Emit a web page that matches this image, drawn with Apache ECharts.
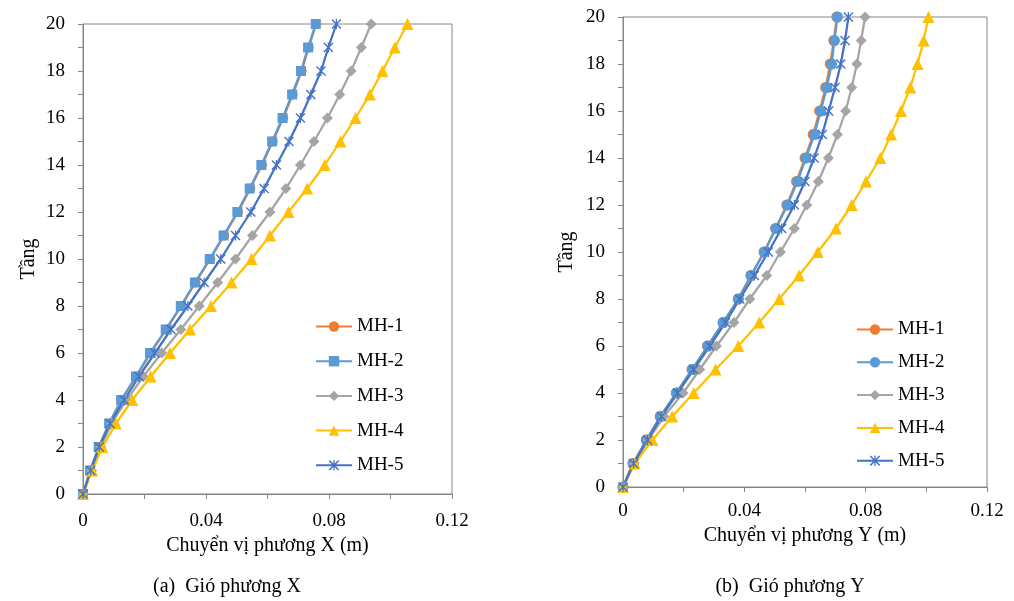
<!DOCTYPE html>
<html><head><meta charset="utf-8">
<script src="https://cdn.jsdelivr.net/npm/echarts@6/dist/echarts.min.js"></script>
<style>html,body{margin:0;padding:0;background:#fff}#c{width:1014px;height:601px}</style>
</head><body><div id="c"></div>
<script>
const floors = [0,1,2,3,4,5,6,7,8,9,10,11,12,13,14,15,16,17,18,19,20];
const seriesNames = ['MH-1','MH-2','MH-3','MH-4','MH-5'];
const xTickLabels = ['0','0.04','0.08','0.12'];
// Left chart: wind direction X (displacement in m)
const xMH1 = [0,0.0024,0.0052,0.0086,0.0125,0.0174,0.0220,0.0271,0.0320,0.0366,0.0414,0.0459,0.0504,0.0544,0.0582,0.0617,0.0651,0.0682,0.0711,0.0734,0.0758];
const xMH2 = [0,0.0023,0.0051,0.0085,0.0124,0.0172,0.0218,0.0269,0.0318,0.0364,0.0412,0.0457,0.0502,0.0542,0.0580,0.0615,0.0649,0.0680,0.0709,0.0732,0.0757];
const xMH3 = [0,0.0028,0.0058,0.0093,0.0142,0.0196,0.0256,0.0318,0.0378,0.0438,0.0496,0.0551,0.0608,0.0660,0.0707,0.0751,0.0795,0.0835,0.0872,0.0905,0.0937];
const xMH4 = [0,0.0030,0.0063,0.0107,0.0160,0.0220,0.0283,0.0348,0.0416,0.0483,0.0548,0.0608,0.0668,0.0729,0.0786,0.0837,0.0886,0.0933,0.0974,0.1014,0.1055];
const xMH5 = [0,0.0025,0.0053,0.0088,0.0134,0.0182,0.0234,0.0286,0.0341,0.0394,0.0448,0.0496,0.0546,0.0589,0.0629,0.0670,0.0707,0.0741,0.0774,0.0798,0.0824];
// Right chart: wind direction Y (displacement in m)
const yMH1 = [0,0.0033,0.0077,0.0123,0.0176,0.0228,0.0279,0.0330,0.0380,0.0422,0.0465,0.0503,0.0540,0.0572,0.0600,0.0627,0.0648,0.0668,0.0683,0.0695,0.0705];
const yMH2 = [0,0.0033,0.0077,0.0123,0.0176,0.0228,0.0279,0.0330,0.0380,0.0422,0.0466,0.0504,0.0542,0.0575,0.0603,0.0631,0.0652,0.0672,0.0688,0.0697,0.0707];
const yMH3 = [0,0.0036,0.0083,0.0135,0.0198,0.0253,0.0308,0.0366,0.0418,0.0474,0.0519,0.0565,0.0606,0.0644,0.0677,0.0707,0.0734,0.0754,0.0771,0.0785,0.0798];
const yMH4 = [0,0.0039,0.0097,0.0162,0.0233,0.0305,0.0380,0.0449,0.0515,0.0580,0.0642,0.0702,0.0754,0.0801,0.0848,0.0884,0.0916,0.0947,0.0971,0.0991,0.1007];
const yMH5 = [0,0.0035,0.0081,0.0127,0.0180,0.0233,0.0286,0.0338,0.0385,0.0433,0.0479,0.0523,0.0565,0.0600,0.0630,0.0657,0.0678,0.0699,0.0718,0.0732,0.0743];

const colors = ['#ED7D31','#5B9BD5','#A5A5A5','#FFC000','#4472C4'];
const FONT = 'Liberation Serif';
const star = 'path://M0,1L1,0L10,9L9,10ZM9,0L10,1L1,10L0,9ZM4.4,0L5.6,0L5.6,10L4.4,10Z';
const symbolsL = ['circle','rect','diamond','triangle',star];
const symbolsR = ['circle','circle','diamond','triangle',star];
const sizesL = [10,10,11,12,10];
const sizesR = [11,11,11,12,10];
const dataL = [xMH1,xMH2,xMH3,xMH4,xMH5];
const dataR = [yMH1,yMH2,yMH3,yMH4,yMH5];

function pairs(vals){ return vals.map((v,i)=>[v,floors[i]]); }

const series = [];
seriesNames.forEach((n,i)=>{
  series.push({name:n, type:'line', xAxisIndex:0, yAxisIndex:0, data:pairs(dataL[i]),
    symbol:symbolsL[i], symbolSize:sizesL[i], showAllSymbol:true,
    lineStyle:{color:colors[i],width:2.25}, itemStyle:{color:colors[i]}, animation:false});
});
seriesNames.forEach((n,i)=>{
  series.push({name:n+' ', type:'line', xAxisIndex:1, yAxisIndex:1, data:pairs(dataR[i]),
    symbol:symbolsR[i], symbolSize:sizesR[i], showAllSymbol:true,
    lineStyle:{color:colors[i],width:2.25}, itemStyle:{color:colors[i]}, animation:false});
});

function xAx(grid, name, gap, margin){
  return {type:'value', gridIndex:grid, min:0, max:0.12, interval:0.04,
    name:name, nameLocation:'middle', nameGap:gap,
    nameTextStyle:{fontFamily:FONT,fontSize:20,color:'#000'},
    axisLine:{show:true,lineStyle:{color:'#868686',width:1}},
    axisTick:{show:true,length:5,lineStyle:{color:'#868686'}},
    minorTick:{show:true,splitNumber:2,length:5,lineStyle:{color:'#868686'}},
    splitLine:{show:false},
    axisLabel:{fontFamily:FONT,fontSize:19,color:'#000',margin:margin,
      formatter:(v)=>{const s=xTickLabels.find(t=>Math.abs(parseFloat(t)-v)<1e-9);return s!==undefined?s:'';}}};
}
function yAx(grid, gap){
  return {type:'value', gridIndex:grid, min:0, max:20, interval:2,
    name:'Tầng', nameLocation:'middle', nameGap:gap, nameRotate:90,
    nameTextStyle:{fontFamily:FONT,fontSize:20,color:'#000'},
    axisLine:{show:true,lineStyle:{color:'#868686',width:1}},
    axisTick:{show:true,length:5,lineStyle:{color:'#868686'}},
    minorTick:{show:true,splitNumber:2,length:5,lineStyle:{color:'#868686'}},
    splitLine:{show:false},
    axisLabel:{fontFamily:FONT,fontSize:19,color:'#000',margin:18}};
}

const chart = echarts.init(document.getElementById('c'), null, {renderer:'canvas'});
chart.setOption({
  backgroundColor:'#fff',
  animation:false,
  grid:[
    {left:83, right:562, top:24, bottom:107, show:true, borderColor:'#868686', borderWidth:1},
    {left:623, right:27, top:17, bottom:114, show:true, borderColor:'#868686', borderWidth:1}
  ],
  xAxis:[xAx(0,'Chuyển vị phương X (m)',38,18), xAx(1,'Chuyển vị phương Y (m)',37,15)],
  yAxis:[yAx(0,44), yAx(1,46)],
  legend:[
    {orient:'vertical', left:310, top:312, itemWidth:36, itemHeight:13, itemGap:15.7,
      data:seriesNames, textStyle:{fontFamily:FONT,fontSize:19,color:'#000'}},
    {orient:'vertical', left:851, top:315, itemWidth:36, itemHeight:13, itemGap:13.8,
      data:seriesNames.map(n=>n+' '), formatter:(n)=>n.trim(),
      textStyle:{fontFamily:FONT,fontSize:19,color:'#000'}}
  ],
  graphic:[
    {type:'text', style:{text:'(a)  Gió phương X', fontFamily:FONT, fontSize:20, fill:'#000', x:227, y:587, align:'center', verticalAlign:'middle'}},
    {type:'text', style:{text:'(b)  Gió phương Y', fontFamily:FONT, fontSize:20, fill:'#000', x:790, y:587, align:'center', verticalAlign:'middle'}}
  ],
  series:series
});
</script></body></html>
